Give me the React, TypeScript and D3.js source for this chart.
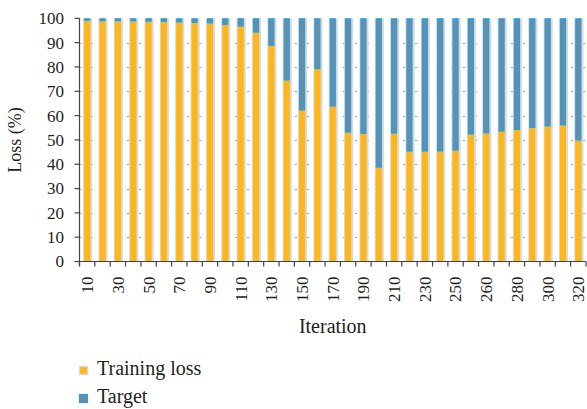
import React, { useEffect, useRef } from 'react';
import * as d3 from 'd3';

// iteration categories (index 25 is never labelled in the source)
const iterations = [10, 20, 30, 40, 50, 60, 70, 80, 90, 100, 110, 120, 130, 140, 150, 160, 170, 180, 190, 200,
  210, 220, 230, 240, 250, 255, 260, 270, 280, 290, 300, 310, 320];

// training loss share (%), target fills the rest up to 100
const trainingLoss = [99.0, 98.8, 98.8, 98.7, 98.6, 98.5, 98.3, 98.1, 97.9, 97.3, 96.6, 94.1, 88.7, 74.4, 62.1, 79.1,
  63.7, 53.0, 52.5, 38.6, 52.6, 45.2, 45.2, 45.2, 45.6, 52.2, 52.7, 53.4, 54.1, 54.9, 55.5, 56.0, 49.7];

const yTicks = [0, 10, 20, 30, 40, 50, 60, 70, 80, 90, 100];
const seriesNames = ['Training loss', 'Target'];

const ORANGE = '#fdb71a';
const BLUE_FILL = '#6a8ca6';
const BLUE_EDGE = '#2a9fd8';
const SHADOW = '#d8d8d8';
const TEXT = '#231f20';
const FONT = '"Liberation Serif", "Times New Roman", serif';

const App = () => {
  const ref = useRef<SVGSVGElement>(null);

  useEffect(() => {
    const svg = d3.select(ref.current);
    svg.selectAll('*').remove();

    const left = 79.5, right = 586, top = 18.3, bottom = 261.5;

    const x = d3.scaleBand<number>()
      .domain(iterations.map((_, i) => i))
      .range([left, right])
      .paddingInner(0.6)
      .paddingOuter(0.3);

    const y = d3.scaleLinear().domain([0, 100]).range([bottom, top]);

    // dotted grid
    svg.append('g')
      .selectAll('line')
      .data(yTicks.filter(t => t > 0 && t < 100))
      .join('line')
      .attr('x1', left)
      .attr('x2', right)
      .attr('y1', d => Math.round(y(d)) + 0.5)
      .attr('y2', d => Math.round(y(d)) + 0.5)
      .attr('stroke', '#444')
      .attr('stroke-width', 1)
      .attr('stroke-dasharray', '1 11');

    const bw = x.bandwidth();

    // bar shadow
    svg.append('g')
      .selectAll('rect')
      .data(trainingLoss)
      .join('rect')
      .attr('x', (_, i) => x(i)! - 1)
      .attr('y', y(100))
      .attr('width', bw + 3)
      .attr('height', bottom - y(100))
      .attr('fill', SHADOW);

    // training loss
    svg.append('g')
      .selectAll('rect')
      .data(trainingLoss)
      .join('rect')
      .attr('x', (_, i) => x(i)!)
      .attr('y', d => y(d))
      .attr('width', bw)
      .attr('height', d => bottom - y(d))
      .attr('fill', ORANGE);

    // target
    svg.append('g')
      .selectAll('rect')
      .data(trainingLoss)
      .join('rect')
      .attr('x', (_, i) => x(i)! + 0.6)
      .attr('y', y(100) + 0.6)
      .attr('width', bw - 1.2)
      .attr('height', d => Math.max(0, y(d) - y(100) - 1.2))
      .attr('fill', BLUE_FILL)
      .attr('stroke', BLUE_EDGE)
      .attr('stroke-width', 1.3);

    // y axis
    const yAxis = svg.append('g');
    yAxis.append('line')
      .attr('x1', left).attr('x2', left)
      .attr('y1', top).attr('y2', bottom + 4)
      .attr('stroke', '#444').attr('stroke-width', 1.2);
    yAxis.selectAll('line.tick')
      .data(yTicks)
      .join('line')
      .attr('class', 'tick')
      .attr('x1', left - 5).attr('x2', left)
      .attr('y1', d => y(d)).attr('y2', d => y(d))
      .attr('stroke', '#444').attr('stroke-width', 1.2);
    yAxis.selectAll('text')
      .data(yTicks)
      .join('text')
      .attr('x', 64)
      .attr('y', d => y(d))
      .attr('dy', '0.35em')
      .attr('text-anchor', 'end')
      .style('font-family', FONT)
      .style('font-size', '17px')
      .style('fill', TEXT)
      .text(d => d);

    // x axis
    const xAxis = svg.append('g');
    xAxis.append('line')
      .attr('x1', left).attr('x2', right)
      .attr('y1', bottom).attr('y2', bottom)
      .attr('stroke', '#444').attr('stroke-width', 1.2);
    const step = x.step();
    xAxis.selectAll('line.tick')
      .data(d3.range(iterations.length + 1))
      .join('line')
      .attr('class', 'tick')
      .attr('x1', i => left + step * i).attr('x2', i => left + step * i)
      .attr('y1', bottom).attr('y2', bottom + 5)
      .attr('stroke', '#444').attr('stroke-width', 1.2);
    xAxis.selectAll('text')
      .data(iterations.map((v, i) => ({ v, i })).filter(d => d.i % 2 === 0))
      .join('text')
      .attr('transform', d => `translate(${x(d.i)! + bw / 2},${bottom + 15}) rotate(-90)`)
      .attr('dy', '0.35em')
      .attr('text-anchor', 'end')
      .style('font-family', FONT)
      .style('font-size', '17px')
      .style('fill', TEXT)
      .text(d => d.v);

    // axis titles
    svg.append('text')
      .attr('x', (left + right) / 2)
      .attr('y', 333)
      .attr('text-anchor', 'middle')
      .style('font-family', FONT)
      .style('font-size', '20px')
      .style('fill', TEXT)
      .text('Iteration');

    svg.append('text')
      .attr('transform', `translate(21,${(top + bottom) / 2}) rotate(-90)`)
      .attr('text-anchor', 'middle')
      .style('font-family', FONT)
      .style('font-size', '18px')
      .style('fill', TEXT)
      .text('Loss (%)');

    // legend
    const legend = svg.append('g');
    seriesNames.forEach((name, i) => {
      const ly = 366 + i * 28;
      legend.append('rect')
        .attr('x', 79.5).attr('y', ly + 0.5)
        .attr('width', 8).attr('height', 8)
        .attr('fill', i === 0 ? ORANGE : BLUE_FILL)
        .attr('stroke', i === 0 ? SHADOW : BLUE_EDGE)
        .attr('stroke-width', 1.2);
      legend.append('text')
        .attr('x', 97)
        .attr('y', ly + 9)
        .style('font-family', FONT)
        .style('font-size', '20px')
        .style('fill', TEXT)
        .text(name);
    });
  }, []);

  return (
    <svg ref={ref} width={587} height={409}
      style={{ position: 'absolute', left: 0, top: 0, background: '#fff' }} />
  );
};

export default App;
